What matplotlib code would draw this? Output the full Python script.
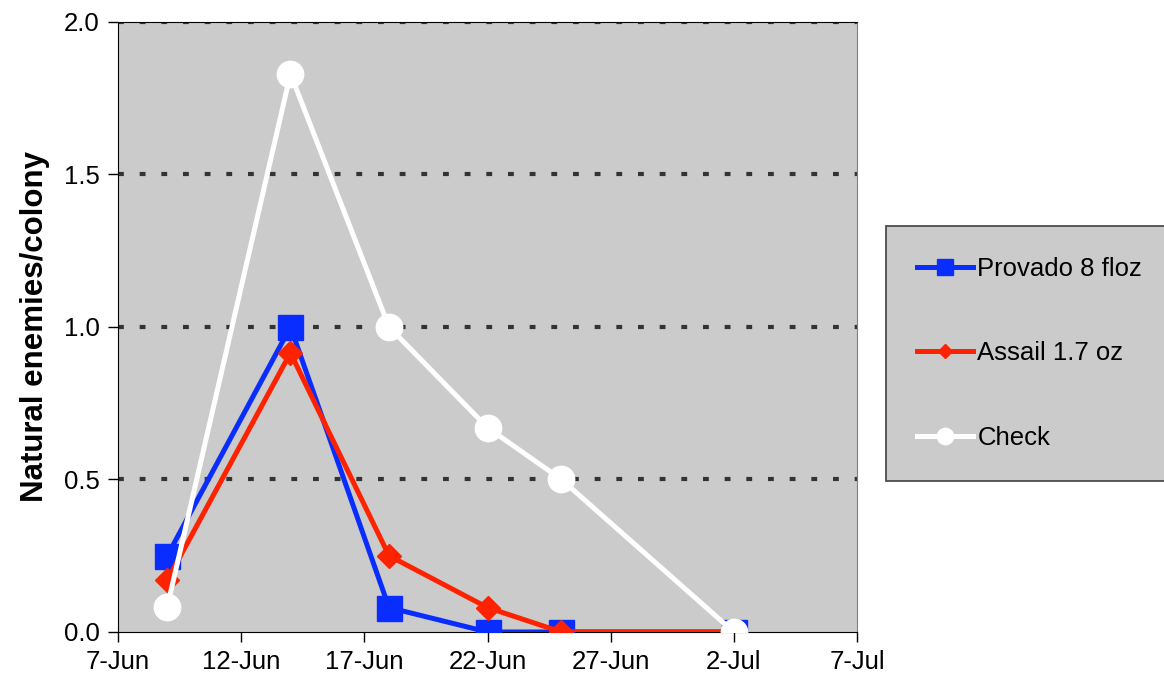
import matplotlib
matplotlib.use('Agg')
import matplotlib.pyplot as plt
import datetime as dt

plt.rcParams['font.family'] = ['Liberation Sans', 'DejaVu Sans']

# dates of sampling
dates = ['2005-06-09', '2005-06-14', '2005-06-18', '2005-06-22', '2005-06-25', '2005-07-02']
provado = [0.25, 1.0, 0.08, 0.0, 0.0, 0.0]
assail = [0.17, 0.915, 0.25, 0.08, 0.0, 0.0]
check = [0.083, 1.83, 1.0, 0.67, 0.5, 0.0]
xtick_dates = ['2005-06-07', '2005-06-12', '2005-06-17', '2005-06-22', '2005-06-27', '2005-07-02', '2005-07-07']

x = [dt.datetime.strptime(d, '%Y-%m-%d') for d in dates]
xt = [dt.datetime.strptime(d, '%Y-%m-%d') for d in xtick_dates]

fig = plt.figure(figsize=(11.64, 6.83), dpi=100)
ax = fig.add_axes([0.1014, 0.0747, 0.6349, 0.8931])
ax.set_facecolor('#cbcbcb')

ax.plot(x, provado, color='#0a2dff', lw=3.6, marker='s', ms=18, label='Provado 8 floz', zorder=3)
ax.plot(x, assail, color='#ff2200', lw=3.6, marker='D', ms=12, label='Assail 1.7 oz', zorder=4)
ax.plot(x, check, color='white', lw=3.6, marker='o', ms=19, label='Check', zorder=5)

ax.set_xlim(xt[0], xt[-1])
ax.set_ylim(0, 2.0)
ax.set_xticks(xt)
ax.set_xticklabels([d.strftime('%-d-%b') for d in xt])
ax.set_yticks([0, 0.5, 1.0, 1.5, 2.0])
ax.set_yticklabels(['0.0', '0.5', '1.0', '1.5', '2.0'])
ax.tick_params(labelsize=18.5, direction='out', length=7, width=1, pad=6)

for yv in [0.5, 1.0, 1.5, 2.0]:
    ax.axhline(yv, color='#333333', lw=3, ls=(0, (1.4, 3.8)), zorder=1)

ax.spines['top'].set_color('black')
ax.spines['right'].set_color('#808080')
ax.spines['left'].set_color('black')
ax.spines['bottom'].set_color('black')

ax.set_ylabel('Natural enemies/colony', fontsize=22.5, fontweight='bold', labelpad=10)

leg = fig.legend(loc='upper left', bbox_to_anchor=(0.7612, 0.669), fontsize=18.5,
                 facecolor='#cbcbcb', edgecolor='#404040', fancybox=False, framealpha=1,
                 labelspacing=2.35, borderpad=1.2, borderaxespad=0, handlelength=2.2,
                 handletextpad=0.15, markerscale=0.62)
leg.get_frame().set_linewidth(1.2)

fig.savefig('out.png', dpi=100)
